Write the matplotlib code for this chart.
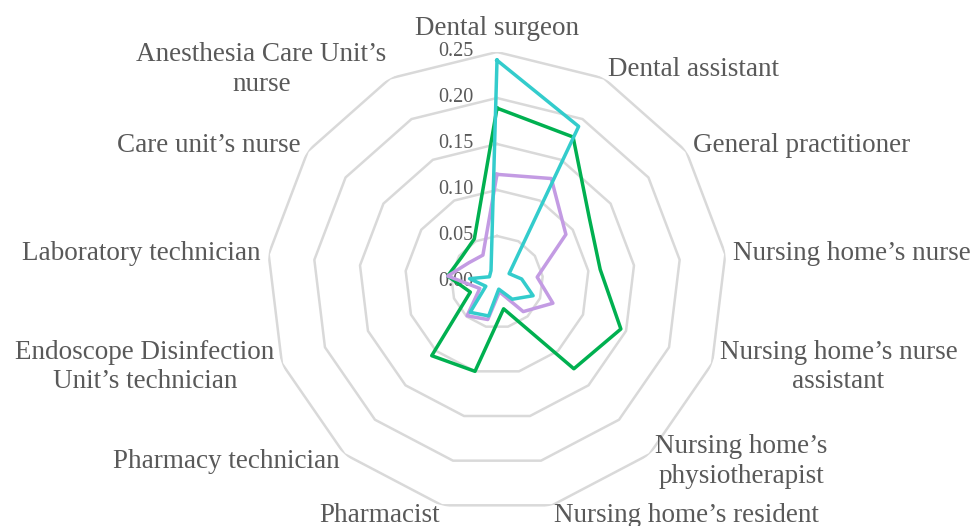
import matplotlib
matplotlib.use('Agg')
import matplotlib.pyplot as plt
import numpy as np

plt.rcParams['font.family'] = ['Liberation Serif', 'DejaVu Serif']

categories = ["Dental surgeon", "Dental assistant", "General practitioner",
              "Nursing home\u2019s nurse", "Nursing home\u2019s nurse\nassistant",
              "Nursing home\u2019s\nphysiotherapist", "Nursing home\u2019s resident",
              "Pharmacist", "Pharmacy technician",
              "Endoscope Disinfection\nUnit\u2019s technician", "Laboratory technician",
              "Care unit\u2019s nurse", "Anesthesia Care Unit\u2019s\nnurse"]

green_vals = [0.189, 0.178, 0.122, 0.113, 0.144, 0.126, 0.030, 0.100, 0.107, 0.031, 0.054, 0.047, 0.053]
purple_vals = [0.117, 0.127, 0.091, 0.044, 0.065, 0.043, 0.011, 0.042, 0.049, 0.020, 0.054, 0.037, 0.033]
cyan_vals = [0.241, 0.191, 0.016, 0.027, 0.042, 0.025, 0.008, 0.038, 0.044, 0.013, 0.030, 0.010, 0.014]

r_ticks = [0.00, 0.05, 0.10, 0.15, 0.20, 0.25]

text_color = '#595959'
grid_color = '#d9d9d9'
series = [(green_vals, '#00b050'), (purple_vals, '#c39be3'), (cyan_vals, '#33cccc')]

n = len(categories)
angles = np.arange(n) * 2 * np.pi / n
closed = np.append(angles, angles[0])

fig = plt.figure(figsize=(9.74, 5.26), dpi=100)
cx, cy, R = 497, 282, 230
ax = fig.add_axes([(cx - R) / 974, (526 - cy - R) / 526, 2 * R / 974, 2 * R / 526], projection='polar')
ax.set_theta_zero_location('N')
ax.set_theta_direction(-1)
ax.set_ylim(0, r_ticks[-1])
ax.grid(False)
ax.spines['polar'].set_visible(False)
ax.set_xticks([])
ax.set_yticks([])
ax.patch.set_alpha(0)

# polygon rings
for r in r_ticks[1:]:
    ax.plot(closed, [r] * (n + 1), color=grid_color, linewidth=1.8, zorder=1)

# radial tick labels
for r in r_ticks:
    ax.annotate('{:.2f}'.format(r), xy=(0, r), xytext=(-17, 0), textcoords='offset points',
                ha='right', va='center', fontsize=14.5, color=text_color, zorder=2)

# data
for vals, col in series:
    ax.plot(closed, vals + vals[:1], color=col, linewidth=2.5, zorder=3, clip_on=False)

# category labels
for ang, lab in zip(angles, categories):
    s, c = np.sin(ang), np.cos(ang)
    if abs(s) < 0.05:
        ha, va, off = 'center', 'bottom', (0, 8)
    else:
        ha = 'left' if s > 0 else 'right'
        va = 'center'
        off = (5.8 * s, 7.2 * c)
    ax.annotate(lab, xy=(ang, r_ticks[-1]), xytext=off, textcoords='offset points',
                ha=ha, va=va, multialignment='center', fontsize=19.5, color=text_color,
                linespacing=1.25, annotation_clip=False)

fig.savefig('out.png', dpi=100)
